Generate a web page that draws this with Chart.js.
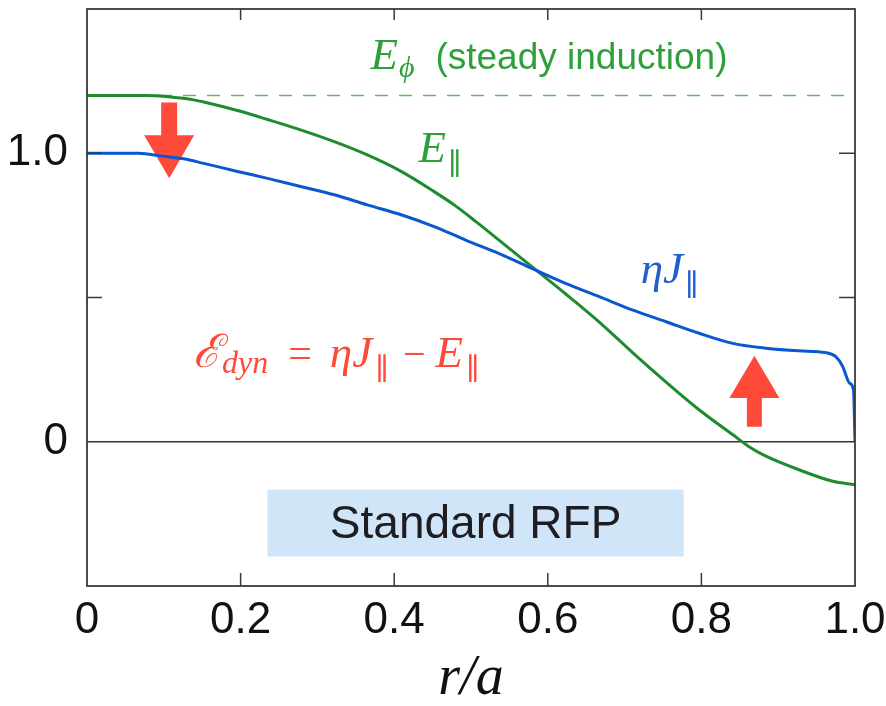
<!DOCTYPE html>
<html>
<head>
<meta charset="utf-8">
<style>
  html, body { margin: 0; padding: 0; background: #ffffff; }
  #wrap { width: 886px; height: 706px; }
</style>
</head>
<body>
<div id="wrap"><canvas id="c" width="886" height="706"></canvas></div>
<script src="https://cdn.jsdelivr.net/npm/chart.js@4/dist/chart.umd.min.js"></script>
<script>
// Radial profiles of the parallel electric field and resistive term, standard RFP
const rE       = [0, 0.076, 0.109, 0.139, 0.156, 0.196, 0.235, 0.278, 0.322, 0.365, 0.409, 0.452, 0.478, 0.506, 0.536, 0.580, 0.623, 0.667, 0.710, 0.754, 0.797, 0.841, 0.862, 0.884, 0.927, 0.971, 1.0];
const eParallel= [1.2, 1.2, 1.195, 1.185, 1.175, 1.148, 1.117, 1.081, 1.040, 0.994, 0.937, 0.867, 0.821, 0.764, 0.700, 0.605, 0.513, 0.415, 0.310, 0.207, 0.111, 0.024, -0.017, -0.050, -0.097, -0.137, -0.149];

const rJ       = [0, 0.067, 0.098, 0.126, 0.152, 0.196, 0.235, 0.278, 0.322, 0.365, 0.409, 0.452, 0.493, 0.536, 0.580, 0.623, 0.667, 0.710, 0.754, 0.797, 0.841, 0.884, 0.927, 0.962, 0.975, 0.984, 0.993, 0.998, 1.0];
const etaJ     = [1.0, 1.0, 0.99, 0.981, 0.965, 0.937, 0.913, 0.885, 0.856, 0.821, 0.787, 0.746, 0.699, 0.653, 0.600, 0.549, 0.503, 0.457, 0.416, 0.376, 0.341, 0.324, 0.315, 0.309, 0.295, 0.261, 0.203, 0.18, 0.0];

const ePhi = 1.2;                 // steady induction level
const xRange = [0, 1];
const yRange = [-0.5, 1.5];
const xTickLabels = ['0', '0.2', '0.4', '0.6', '0.8', '1.0'];
const yTickLabels = { '0': '0', '1': '1.0' };

const GREEN = '#1e8c2e';
const GREEN_DASH = '#5cbf5c';
const BLUE = '#0a58d0';
const RED = '#ff4a3a';

const toPoints = (xs, ys) => xs.map((x, i) => ({ x: x, y: ys[i] }));

// Draws a sequence of text runs with different fonts/offsets starting at (x, y)
function drawRuns(ctx, x, y, runs, color) {
  ctx.save();
  ctx.fillStyle = color;
  ctx.textBaseline = 'alphabetic';
  ctx.textAlign = 'left';
  let cx = x;
  for (const r of runs) {
    ctx.font = r.font;
    cx += (r.dx || 0);
    ctx.fillText(r.text, cx, y + (r.dy || 0));
    cx += ctx.measureText(r.text).width;
  }
  ctx.restore();
}

function arrow(ctx, xs, ys, xv, yTail, yBase, yTip, shaftHalf, headHalf) {
  const px = xs.getPixelForValue(xv);
  const pTail = ys.getPixelForValue(yTail);
  const pBase = ys.getPixelForValue(yBase);
  const pTip = ys.getPixelForValue(yTip);
  ctx.save();
  ctx.fillStyle = RED;
  ctx.beginPath();
  ctx.moveTo(px - shaftHalf, pTail);
  ctx.lineTo(px + shaftHalf, pTail);
  ctx.lineTo(px + shaftHalf, pBase);
  ctx.lineTo(px + headHalf, pBase);
  ctx.lineTo(px, pTip);
  ctx.lineTo(px - headHalf, pBase);
  ctx.lineTo(px - shaftHalf, pBase);
  ctx.closePath();
  ctx.fill();
  ctx.restore();
}

const annotations = {
  id: 'annotations',
  beforeDatasetsDraw(chart) {
    const { ctx, scales: { x, y } } = chart;
    // "Standard RFP" box
    const bx0 = x.getPixelForValue(0.235), bx1 = x.getPixelForValue(0.777);
    const by0 = y.getPixelForValue(-0.166), by1 = y.getPixelForValue(-0.398);
    ctx.save();
    ctx.fillStyle = '#d1e5f9';
    ctx.fillRect(bx0, by0, bx1 - bx0, by1 - by0);
    ctx.fillStyle = '#1e1e22';
    ctx.font = '46px "Liberation Sans", Arial, sans-serif';
    ctx.textAlign = 'center';
    ctx.textBaseline = 'middle';
    ctx.fillText('Standard RFP', (bx0 + bx1) / 2, (by0 + by1) / 2 + 2);
    ctx.restore();

    // zero line
    ctx.save();
    ctx.strokeStyle = '#333333';
    ctx.lineWidth = 1.4;
    const y0 = y.getPixelForValue(0);
    ctx.beginPath();
    ctx.moveTo(x.getPixelForValue(0), y0);
    ctx.lineTo(x.getPixelForValue(1), y0);
    ctx.stroke();
    ctx.restore();

    // arrows showing the dynamo contribution
    arrow(ctx, x, y, 0.107, 1.176, 1.062, 0.913, 8, 25);
    arrow(ctx, x, y, 0.869, 0.052, 0.152, 0.298, 7.5, 25);
  },
  afterDatasetsDraw(chart) {
    const { ctx, chartArea: a, scales: { x, y } } = chart;
    // frame with inward ticks
    ctx.save();
    ctx.strokeStyle = '#3a3a3a';
    ctx.lineWidth = 1.8;
    ctx.strokeRect(a.left, a.top, a.right - a.left, a.bottom - a.top);
    ctx.lineWidth = 1.5;
    ctx.beginPath();
    [0.2, 0.4, 0.6, 0.8].forEach(v => {
      const px = x.getPixelForValue(v);
      ctx.moveTo(px, a.bottom); ctx.lineTo(px, a.bottom - 13);
      ctx.moveTo(px, a.top); ctx.lineTo(px, a.top + 11);
    });
    [0.5, 1.0].forEach(v => {
      const py = y.getPixelForValue(v);
      ctx.moveTo(a.left, py); ctx.lineTo(a.left + 15, py);
      ctx.moveTo(a.right, py); ctx.lineTo(a.right - 16, py);
    });
    ctx.stroke();
    ctx.restore();

    const serifI = (s) => 'italic ' + s + 'px "Liberation Serif", "DejaVu Serif", serif';
    const sans = (s) => s + 'px "Liberation Sans", Arial, sans-serif';
    const par = '30px "DejaVu Serif", serif';

    // E_phi (steady induction)
    drawRuns(ctx, x.getPixelForValue(0.369), y.getPixelForValue(1.291), [
      { text: 'E', font: serifI(45) },
      { text: 'ϕ', font: serifI(30), dy: 8, dx: 1 },
      { text: '(steady induction)', font: sans(37), dx: 21 }
    ], '#2ea03a');

    // E parallel
    drawRuns(ctx, x.getPixelForValue(0.4316), y.getPixelForValue(0.969), [
      { text: 'E', font: serifI(45) },
      { text: '∥', font: par, dy: 12, dx: 2 }
    ], '#2ea03a');

    // eta J parallel
    drawRuns(ctx, x.getPixelForValue(0.721), y.getPixelForValue(0.55), [
      { text: 'ηJ', font: serifI(45) },
      { text: '∥', font: par, dy: 12, dx: 2 }
    ], '#1f5fd0');

    // dynamo term definition
    drawRuns(ctx, x.getPixelForValue(0.138), y.getPixelForValue(0.26), [
      { text: 'ℰ', font: 'italic 46px "DejaVu Serif", serif' },
      { text: 'dyn', font: serifI(32), dy: 6, dx: 1 },
      { text: '=', font: '42px "Liberation Serif", serif', dx: 20 },
      { text: 'ηJ', font: serifI(45), dx: 18 },
      { text: '∥', font: par, dy: 12, dx: 3 },
      { text: '−', font: '40px "Liberation Serif", serif', dx: 14 },
      { text: 'E', font: serifI(45), dx: 10 },
      { text: '∥', font: par, dy: 12, dx: 3 }
    ], RED);
  }
};

new Chart(document.getElementById('c'), {
  type: 'line',
  data: {
    datasets: [
      {
        label: 'E_phi',
        data: toPoints(xRange, [ePhi, ePhi]),
        borderColor: GREEN_DASH,
        borderWidth: 1.6,
        borderDash: [13, 11],
        pointRadius: 0,
        order: 3
      },
      {
        label: 'E_parallel',
        data: toPoints(rE, eParallel),
        borderColor: GREEN,
        borderWidth: 3,
        pointRadius: 0,
        cubicInterpolationMode: 'monotone',
        order: 2
      },
      {
        label: 'eta J_parallel',
        data: toPoints(rJ, etaJ),
        borderColor: BLUE,
        borderWidth: 3,
        pointRadius: 0,
        cubicInterpolationMode: 'monotone',
        order: 1
      }
    ]
  },
  options: {
    responsive: false,
    animation: false,
    devicePixelRatio: 1,
    layout: { padding: { left: 0, top: 9, right: 31, bottom: 0 } },
    plugins: { legend: { display: false }, tooltip: { enabled: false } },
    scales: {
      x: {
        type: 'linear',
        min: xRange[0], max: xRange[1],
        grid: { display: false },
        border: { display: false },
        ticks: {
          stepSize: 0.2,
          padding: 0,
          color: '#111111',
          font: { family: '"Liberation Sans", Arial, sans-serif', size: 44 },
          maxRotation: 0,
          autoSkip: false,
          callback: (v, i) => xTickLabels[i]
        },
        title: {
          display: true,
          text: 'r/a',
          color: '#111111',
          padding: { top: 0, bottom: 0 },
          font: { family: '"Liberation Serif", serif', style: 'italic', size: 56, lineHeight: 0.95 }
        },
        afterFit: (s) => { s.height = 120; s.paddingLeft = 0; s.paddingRight = 0; }
      },
      y: {
        type: 'linear',
        min: yRange[0], max: yRange[1],
        grid: { display: false },
        border: { display: false },
        ticks: {
          stepSize: 0.5,
          padding: 11,
          color: '#111111',
          font: { family: '"Liberation Sans", Arial, sans-serif', size: 44 },
          autoSkip: false,
          callback: (v) => yTickLabels[String(v)] || ''
        },
        afterFit: (s) => { s.width = 87; s.paddingTop = 0; s.paddingBottom = 0; }
      }
    }
  },
  plugins: [annotations]
});
</script>
</body>
</html>
